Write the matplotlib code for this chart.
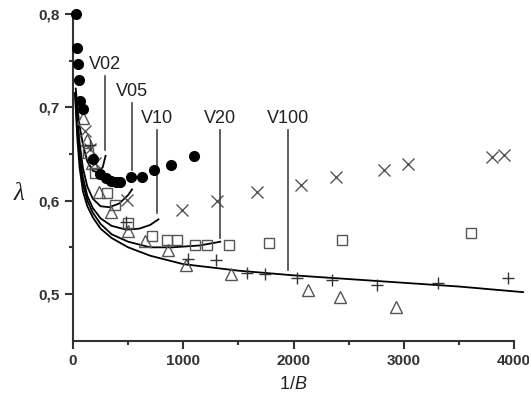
import numpy as np
import matplotlib
matplotlib.use("Agg")
import matplotlib.pyplot as plt

plt.rcParams['font.family'] = ['Liberation Sans', 'DejaVu Sans']
plt.rcParams['mathtext.fontset'] = 'custom'
plt.rcParams['mathtext.rm'] = 'Liberation Sans'
plt.rcParams['mathtext.it'] = 'Liberation Sans:italic'

# measured points (1/B, lambda)
circ_x = [27, 34, 43, 52, 63, 93, 180, 245, 300, 340, 390, 430, 530, 630, 730, 890, 1100]
circ_y = [0.800, 0.764, 0.746, 0.729, 0.707, 0.698, 0.645, 0.629, 0.624, 0.621, 0.620, 0.620, 0.625, 0.625, 0.633, 0.638, 0.648]

cross_x = [110, 150, 200, 487, 986, 1309, 1666, 2065, 2383, 2824, 3033, 3798, 3909]
cross_y = [0.675, 0.655, 0.640, 0.601, 0.590, 0.600, 0.609, 0.617, 0.625, 0.633, 0.639, 0.647, 0.649]

sq_x = [140, 200, 306, 381, 496, 714, 850, 946, 1110, 1213, 1415, 1781, 2440, 3610]
sq_y = [0.651, 0.630, 0.608, 0.595, 0.576, 0.562, 0.558, 0.558, 0.552, 0.552, 0.552, 0.555, 0.558, 0.565]

tri_x = [93, 130, 170, 235, 348, 502, 650, 862, 1025, 1432, 2134, 2424, 2927]
tri_y = [0.688, 0.665, 0.640, 0.609, 0.588, 0.568, 0.557, 0.547, 0.531, 0.521, 0.504, 0.497, 0.486]

plus_x = [150, 481, 1040, 1300, 1575, 1745, 2029, 2347, 2757, 3308, 3943]
plus_y = [0.660, 0.577, 0.537, 0.536, 0.522, 0.521, 0.517, 0.515, 0.510, 0.512, 0.517]

# model curves
v02_x = [25, 40, 60, 90, 130, 180, 230, 270, 295]
v02_y = [0.720, 0.700, 0.680, 0.660, 0.642, 0.632, 0.630, 0.636, 0.648]
v05_x = [25, 40, 60, 90, 130, 180, 250, 330, 420, 500, 535]
v05_y = [0.715, 0.690, 0.662, 0.635, 0.615, 0.602, 0.594, 0.593, 0.597, 0.606, 0.612]
v10_x = [22, 40, 60, 90, 130, 180, 250, 350, 480, 600, 700, 775]
v10_y = [0.715, 0.680, 0.650, 0.625, 0.605, 0.592, 0.581, 0.573, 0.569, 0.570, 0.574, 0.580]
v20_x = [20, 40, 60, 90, 130, 180, 250, 350, 500, 700, 900, 1150, 1335]
v20_y = [0.715, 0.675, 0.645, 0.618, 0.600, 0.587, 0.575, 0.564, 0.556, 0.550, 0.550, 0.552, 0.556]
v100_x = [18, 40, 60, 90, 130, 180, 250, 350, 500, 700, 1000, 1500, 2000, 2500, 3000, 3500, 4080]
v100_y = [0.715, 0.665, 0.635, 0.610, 0.594, 0.582, 0.570, 0.560, 0.550, 0.541, 0.532, 0.525, 0.520, 0.516, 0.512, 0.508, 0.502]

vlab = ['V02', 'V05', 'V10', 'V20', 'V100']
vline_x = [290, 532, 759, 1333, 1953]
vline_top = [0.734, 0.705, 0.676, 0.676, 0.676]
vline_bot = [0.654, 0.633, 0.587, 0.560, 0.526]

fig = plt.figure(figsize=(5.29, 3.98), dpi=100)
ax = fig.add_axes([0.138, 0.144, 0.834, 0.821])

mc = '#555555'
for cx, cy in [(v02_x, v02_y), (v05_x, v05_y), (v10_x, v10_y), (v20_x, v20_y), (v100_x, v100_y)]:
    ax.plot(cx, cy, color='black', lw=1.3, clip_on=False, zorder=2)

ax.plot(cross_x, cross_y, 'x', color=mc, ms=8, mew=1.0, ls='none')
ax.plot(sq_x, sq_y, 's', mfc='none', mec=mc, ms=7, mew=1.0, ls='none')
ax.plot(tri_x, tri_y, '^', mfc='none', mec=mc, ms=8, mew=1.0, ls='none')
ax.plot(plus_x, plus_y, '+', color='#333333', ms=8, mew=1.0, ls='none')
ax.plot(circ_x, circ_y, 'o', color='black', ms=7, ls='none', clip_on=False, zorder=4)

for lab, vx, vt, vb in zip(vlab, vline_x, vline_top, vline_bot):
    ax.plot([vx, vx], [vb, vt], color='#444444', lw=1.2)
    ax.text(vx, vt + 0.003, lab, ha='center', va='bottom', fontsize=13, color='#222222')

ax.set_xlim(0, 4000)
ax.set_ylim(0.45, 0.8)
ax.set_xticks([0, 1000, 2000, 3000, 4000])
ax.set_xticks([500, 1500, 2500, 3500], minor=True)
ax.set_yticks([0.5, 0.6, 0.7, 0.8])
ax.set_yticks([0.55, 0.65, 0.75], minor=True)
ax.set_yticklabels(['0,5', '0,6', '0,7', '0,8'])
for t in ax.get_xticklabels() + ax.get_yticklabels():
    t.set_fontweight('bold')
    t.set_color('#333333')
    t.set_fontsize(11)

ax.spines['top'].set_visible(False)
ax.spines['right'].set_visible(False)
for s in ['left', 'bottom']:
    ax.spines[s].set_linewidth(1.5)
    ax.spines[s].set_color('#333333')
ax.tick_params(which='major', direction='out', length=6, width=1.5, color='#333333')
ax.tick_params(which='minor', direction='out', length=3, width=1.5, color='#333333')

ax.set_xlabel('1/$\\mathit{B}$', fontsize=13, color='#222222', labelpad=6)
ax.set_ylabel('λ', fontsize=18, family=['Liberation Serif'], style='italic',
              rotation=0, color='#222222', va='center', ha='center')
ax.yaxis.set_label_coords(-0.122, 0.45)

fig.savefig('out.png', dpi=100)
